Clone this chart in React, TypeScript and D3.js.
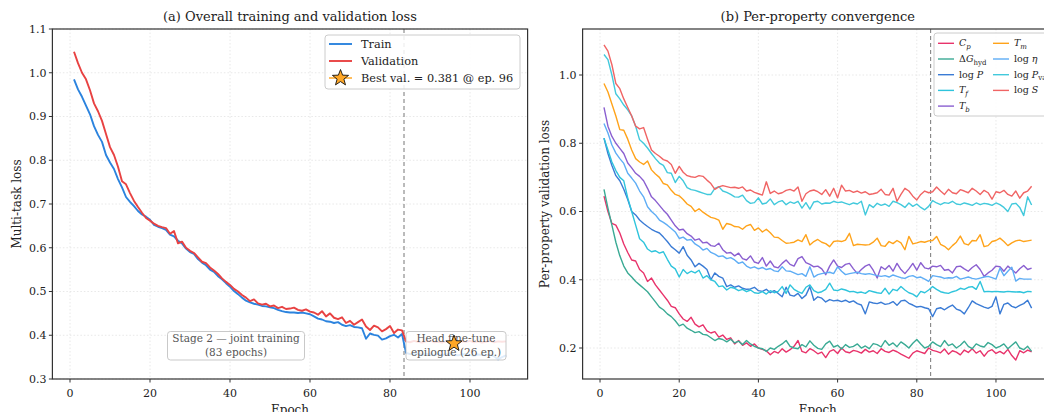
import React from "react";
import * as d3 from "d3";

const epochs: number[] = Array.from({ length: 109 }, (_, i) => i + 1);

const trainLoss = [
  0.985, 0.962, 0.945, 0.925, 0.905, 0.878, 0.858, 0.842, 0.812, 0.795,
  0.780, 0.757, 0.738, 0.716, 0.705, 0.695, 0.684, 0.676, 0.671, 0.664,
  0.652, 0.648, 0.645, 0.641, 0.630, 0.626, 0.616, 0.610, 0.598, 0.590,
  0.586, 0.574, 0.566, 0.560, 0.550, 0.545, 0.535, 0.528, 0.519, 0.511,
  0.501, 0.494, 0.486, 0.479, 0.475, 0.472, 0.470, 0.467, 0.466, 0.464,
  0.462, 0.458, 0.455, 0.453, 0.452, 0.452, 0.451, 0.452, 0.450, 0.448,
  0.443, 0.438, 0.436, 0.432, 0.431, 0.428, 0.430, 0.424, 0.421, 0.423,
  0.419, 0.418, 0.416, 0.392, 0.404, 0.401, 0.399, 0.390, 0.393, 0.398,
  0.401, 0.395, 0.403, 0.360, 0.357, 0.356, 0.358, 0.355, 0.357, 0.356,
  0.354, 0.357, 0.355, 0.356, 0.358, 0.355, 0.354, 0.356, 0.357, 0.355,
  0.353, 0.356, 0.355, 0.354, 0.356, 0.352, 0.345, 0.350, 0.354,
];

const valLoss = [
  1.048, 1.022, 1.000, 0.985, 0.960, 0.930, 0.912, 0.890, 0.860, 0.830,
  0.812, 0.785, 0.752, 0.745, 0.725, 0.707, 0.693, 0.680, 0.668, 0.662,
  0.655, 0.650, 0.647, 0.645, 0.632, 0.638, 0.610, 0.614, 0.600, 0.593,
  0.588, 0.578, 0.568, 0.565, 0.555, 0.548, 0.540, 0.530, 0.522, 0.515,
  0.506, 0.500, 0.492, 0.486, 0.478, 0.482, 0.473, 0.470, 0.472, 0.466,
  0.468, 0.462, 0.465, 0.460, 0.461, 0.463, 0.458, 0.456, 0.459, 0.454,
  0.452, 0.447, 0.455, 0.443, 0.450, 0.440, 0.437, 0.441, 0.428, 0.433,
  0.424, 0.430, 0.436, 0.420, 0.412, 0.422, 0.418, 0.409, 0.414, 0.421,
  0.405, 0.413, 0.411, 0.386, 0.384, 0.387, 0.385, 0.383, 0.386, 0.388,
  0.384, 0.385, 0.383, 0.386, 0.382, 0.381, 0.384, 0.386, 0.385, 0.387,
  0.384, 0.386, 0.383, 0.385, 0.387, 0.384, 0.386, 0.385, 0.386,
];

const bestEpoch = 96;
const bestVal = 0.381;
const stageBoundary = 83.5;

const cpLoss = [
  0.645, 0.600, 0.565, 0.560, 0.537, 0.505, 0.480, 0.458, 0.455, 0.430,
  0.420, 0.395, 0.405, 0.385, 0.370, 0.355, 0.340, 0.322, 0.318, 0.300,
  0.285, 0.278, 0.290, 0.270, 0.262, 0.268, 0.250, 0.244, 0.248, 0.232,
  0.238, 0.225, 0.230, 0.212, 0.222, 0.208, 0.215, 0.205, 0.212, 0.200,
  0.196, 0.192, 0.180, 0.190, 0.185, 0.198, 0.188, 0.195, 0.205, 0.222,
  0.190, 0.186, 0.198, 0.192, 0.183, 0.188, 0.172, 0.190, 0.195, 0.184,
  0.200, 0.189, 0.186, 0.193, 0.190, 0.185, 0.196, 0.188, 0.192, 0.184,
  0.198, 0.190, 0.187, 0.194, 0.189, 0.182, 0.176, 0.170, 0.185, 0.192,
  0.188, 0.184, 0.200, 0.193, 0.190, 0.186, 0.197, 0.182, 0.192, 0.188,
  0.180, 0.194, 0.187, 0.198, 0.185, 0.192, 0.176, 0.190, 0.195, 0.184,
  0.190, 0.183, 0.196, 0.178, 0.165, 0.192, 0.186, 0.194, 0.189,
];

const dgLoss = [
  0.665, 0.610, 0.560, 0.510, 0.470, 0.440, 0.420, 0.408, 0.395, 0.385,
  0.375, 0.365, 0.350, 0.335, 0.320, 0.312, 0.300, 0.292, 0.280, 0.265,
  0.270, 0.258, 0.252, 0.245, 0.248, 0.240, 0.238, 0.230, 0.222, 0.228,
  0.225, 0.218, 0.226, 0.215, 0.220, 0.210, 0.222, 0.212, 0.205, 0.200,
  0.198, 0.190, 0.200, 0.196, 0.205, 0.212, 0.222, 0.205, 0.200, 0.198,
  0.210, 0.203, 0.221, 0.208, 0.199, 0.196, 0.212, 0.220, 0.203, 0.208,
  0.197, 0.210, 0.202, 0.205, 0.212, 0.200, 0.206, 0.198, 0.213, 0.210,
  0.203, 0.222, 0.208, 0.215, 0.204, 0.218, 0.210, 0.200, 0.214, 0.225,
  0.212, 0.200, 0.205, 0.218, 0.210, 0.204, 0.222, 0.207, 0.212, 0.200,
  0.208, 0.220, 0.205, 0.198, 0.212, 0.206, 0.203, 0.216, 0.210, 0.200,
  0.205, 0.212, 0.198, 0.208, 0.218, 0.200, 0.195, 0.205, 0.190,
];

const logPLoss = [
  0.815, 0.770, 0.735, 0.705, 0.690, 0.665, 0.635, 0.600, 0.590, 0.575,
  0.565, 0.556, 0.548, 0.542, 0.537, 0.525, 0.512, 0.497, 0.488, 0.478,
  0.497, 0.472, 0.458, 0.438, 0.448, 0.440, 0.430, 0.400, 0.420, 0.410,
  0.405, 0.380, 0.385, 0.378, 0.382, 0.375, 0.372, 0.373, 0.378, 0.368,
  0.366, 0.372, 0.362, 0.368, 0.360, 0.350, 0.378, 0.355, 0.352, 0.360,
  0.345, 0.355, 0.380, 0.340, 0.350, 0.346, 0.335, 0.342, 0.338, 0.340,
  0.336, 0.340, 0.334, 0.338, 0.330, 0.326, 0.300, 0.335, 0.332, 0.330,
  0.334, 0.328, 0.330, 0.336, 0.325, 0.338, 0.340, 0.331, 0.326, 0.320,
  0.322, 0.318, 0.315, 0.292, 0.315, 0.318, 0.312, 0.320, 0.326, 0.314,
  0.310, 0.300, 0.318, 0.338, 0.330, 0.325, 0.320, 0.316, 0.322, 0.350,
  0.300, 0.328, 0.332, 0.322, 0.318, 0.325, 0.330, 0.340, 0.317,
];

const tfLoss = [
  0.815, 0.780, 0.745, 0.720, 0.700, 0.690, 0.640, 0.600, 0.560, 0.520,
  0.510, 0.490, 0.482, 0.485, 0.478, 0.482, 0.460, 0.440, 0.432, 0.408,
  0.430, 0.418, 0.425, 0.420, 0.428, 0.405, 0.412, 0.400, 0.395, 0.380,
  0.382, 0.370, 0.378, 0.375, 0.368, 0.372, 0.365, 0.370, 0.362, 0.360,
  0.365, 0.358, 0.368, 0.362, 0.366, 0.380, 0.360, 0.385, 0.372, 0.365,
  0.360, 0.378, 0.385, 0.368, 0.362, 0.365, 0.372, 0.390, 0.370, 0.368,
  0.373, 0.370, 0.365, 0.366, 0.362, 0.364, 0.360, 0.368, 0.365, 0.362,
  0.360, 0.375, 0.358, 0.372, 0.368, 0.380, 0.370, 0.362, 0.358, 0.350,
  0.366, 0.362, 0.370, 0.380, 0.372, 0.365, 0.362, 0.360, 0.365, 0.368,
  0.375, 0.372, 0.378, 0.380, 0.372, 0.395, 0.365, 0.366, 0.365, 0.366,
  0.365, 0.364, 0.366, 0.365, 0.364, 0.365, 0.362, 0.366, 0.365,
];

const tbLoss = [
  0.905, 0.850, 0.820, 0.800, 0.785, 0.770, 0.742, 0.728, 0.712, 0.703,
  0.690, 0.668, 0.643, 0.632, 0.618, 0.604, 0.592, 0.575, 0.558, 0.546,
  0.548, 0.535, 0.528, 0.516, 0.520, 0.508, 0.510, 0.500, 0.498, 0.507,
  0.488, 0.478, 0.480, 0.470, 0.478, 0.462, 0.458, 0.470, 0.452, 0.448,
  0.465, 0.440, 0.455, 0.438, 0.435, 0.448, 0.458, 0.445, 0.440, 0.462,
  0.468, 0.450, 0.445, 0.438, 0.440, 0.432, 0.415, 0.440, 0.458, 0.440,
  0.436, 0.445, 0.448, 0.432, 0.418, 0.430, 0.440, 0.445, 0.428, 0.405,
  0.438, 0.430, 0.442, 0.425, 0.448, 0.430, 0.418, 0.432, 0.448, 0.428,
  0.450, 0.435, 0.432, 0.440, 0.438, 0.442, 0.428, 0.430, 0.420, 0.438,
  0.440, 0.432, 0.425, 0.436, 0.444, 0.430, 0.410, 0.420, 0.428, 0.440,
  0.438, 0.425, 0.440, 0.430, 0.420, 0.432, 0.442, 0.430, 0.434,
];

const tmLoss = [
  0.975, 0.950, 0.915, 0.880, 0.840, 0.838, 0.812, 0.780, 0.755, 0.745,
  0.738, 0.748, 0.722, 0.710, 0.700, 0.682, 0.678, 0.662, 0.650, 0.646,
  0.635, 0.622, 0.615, 0.600, 0.608, 0.598, 0.590, 0.583, 0.580, 0.575,
  0.548, 0.565, 0.562, 0.556, 0.555, 0.548, 0.558, 0.562, 0.545, 0.552,
  0.540, 0.548, 0.538, 0.525, 0.524, 0.515, 0.507, 0.508, 0.510, 0.517,
  0.512, 0.532, 0.502, 0.512, 0.518, 0.510, 0.506, 0.497, 0.512, 0.514,
  0.512, 0.516, 0.536, 0.500, 0.504, 0.503, 0.502, 0.503, 0.510, 0.522,
  0.500, 0.498, 0.512, 0.506, 0.515, 0.508, 0.488, 0.527, 0.505, 0.508,
  0.512, 0.510, 0.514, 0.515, 0.527, 0.504, 0.498, 0.488, 0.500, 0.510,
  0.528, 0.506, 0.502, 0.515, 0.514, 0.532, 0.497, 0.500, 0.512, 0.515,
  0.522, 0.512, 0.500, 0.508, 0.514, 0.516, 0.512, 0.514, 0.516,
];

const logEtaLoss = [
  0.858, 0.830, 0.795, 0.771, 0.755, 0.741, 0.712, 0.698, 0.683, 0.660,
  0.643, 0.614, 0.600, 0.590, 0.575, 0.568, 0.560, 0.550, 0.540, 0.521,
  0.525, 0.516, 0.518, 0.505, 0.498, 0.487, 0.492, 0.480, 0.475, 0.468,
  0.470, 0.462, 0.465, 0.458, 0.448, 0.452, 0.440, 0.434, 0.438, 0.432,
  0.436, 0.430, 0.433, 0.426, 0.424, 0.438, 0.426, 0.425, 0.420, 0.415,
  0.418, 0.410, 0.438, 0.408, 0.415, 0.418, 0.420, 0.422, 0.418, 0.438,
  0.425, 0.415, 0.418, 0.420, 0.422, 0.418, 0.416, 0.418, 0.415, 0.412,
  0.410, 0.412, 0.408, 0.414, 0.410, 0.406, 0.404, 0.410, 0.412, 0.406,
  0.408, 0.402, 0.395, 0.412, 0.410, 0.408, 0.404, 0.406, 0.405, 0.410,
  0.402, 0.405, 0.408, 0.404, 0.402, 0.405, 0.408, 0.410, 0.406, 0.402,
  0.434, 0.412, 0.425, 0.437, 0.396, 0.404, 0.402, 0.402, 0.402,
];

const logPvapLoss = [
  1.060, 1.045, 1.000, 0.945, 0.930, 0.912, 0.898, 0.880, 0.850, 0.810,
  0.800, 0.786, 0.770, 0.755, 0.742, 0.735, 0.714, 0.712, 0.685, 0.703,
  0.690, 0.670, 0.664, 0.662, 0.658, 0.654, 0.650, 0.650, 0.668, 0.673,
  0.660, 0.656, 0.650, 0.643, 0.642, 0.648, 0.632, 0.624, 0.626, 0.640,
  0.622, 0.625, 0.637, 0.620, 0.628, 0.632, 0.620, 0.628, 0.624, 0.630,
  0.610, 0.626, 0.607, 0.628, 0.630, 0.622, 0.625, 0.624, 0.630, 0.626,
  0.628, 0.624, 0.620, 0.625, 0.622, 0.630, 0.590, 0.620, 0.612, 0.624,
  0.618, 0.622, 0.615, 0.630, 0.626, 0.620, 0.612, 0.625, 0.615, 0.622,
  0.612, 0.605, 0.615, 0.632, 0.625, 0.620, 0.626, 0.624, 0.630, 0.622,
  0.620, 0.625, 0.622, 0.618, 0.625, 0.620, 0.624, 0.622, 0.618, 0.625,
  0.620, 0.612, 0.600, 0.622, 0.624, 0.612, 0.588, 0.643, 0.619,
];

const logSLoss = [
  1.088, 1.070, 1.030, 0.975, 0.960, 0.930, 0.905, 0.880, 0.850, 0.842,
  0.846, 0.812, 0.780, 0.770, 0.762, 0.752, 0.748, 0.738, 0.712, 0.732,
  0.715, 0.705, 0.702, 0.700, 0.705, 0.703, 0.692, 0.682, 0.665, 0.672,
  0.676, 0.673, 0.670, 0.671, 0.668, 0.672, 0.660, 0.663, 0.656, 0.652,
  0.648, 0.687, 0.653, 0.660, 0.652, 0.655, 0.662, 0.665, 0.660, 0.672,
  0.630, 0.652, 0.660, 0.663, 0.658, 0.650, 0.664, 0.645, 0.668, 0.640,
  0.677, 0.660, 0.662, 0.656, 0.660, 0.654, 0.658, 0.650, 0.652, 0.655,
  0.665, 0.650, 0.648, 0.668, 0.630, 0.650, 0.668, 0.660, 0.645, 0.634,
  0.650, 0.660, 0.655, 0.658, 0.672, 0.660, 0.650, 0.665, 0.655, 0.652,
  0.664, 0.660, 0.655, 0.668, 0.660, 0.650, 0.662, 0.655, 0.636, 0.658,
  0.655, 0.662, 0.650, 0.645, 0.660, 0.639, 0.655, 0.660, 0.674,
];

const propertyKeys = ["Cp", "dG", "logP", "Tf", "Tb", "Tm", "logEta", "logPvap", "logS"];
const propertyValues = [cpLoss, dgLoss, logPLoss, tfLoss, tbLoss, tmLoss, logEtaLoss, logPvapLoss, logSLoss];
const propertyColors = ["#e8336b", "#3aaa94", "#3a7bd5", "#2ec4dc", "#8a5fd0", "#ffa31a", "#5eadf5", "#42c9dc", "#f06464"];

const leftYTicks = [0.3, 0.4, 0.5, 0.6, 0.7, 0.8, 0.9, 1.0, 1.1];
const rightYTicks = [0.2, 0.4, 0.6, 0.8, 1.0];
const xTicks = [0, 20, 40, 60, 80, 100];

const FONT = "'DejaVu Serif', serif";
const TEXT = "#222";

function starPath(cx: number, cy: number, R: number) {
  const r = R * 0.42;
  const pts: string[] = [];
  for (let i = 0; i < 10; i++) {
    const a = -Math.PI / 2 + (i * Math.PI) / 5;
    const rad = i % 2 === 0 ? R : r;
    pts.push(`${cx + rad * Math.cos(a)},${cy + rad * Math.sin(a)}`);
  }
  return "M" + pts.join("L") + "Z";
}

function PropLabel({ k }: { k: string }) {
  const it = { fontStyle: "italic" as const };
  switch (k) {
    case "Cp":
      return (<><tspan {...it}>C</tspan><tspan {...it} dy={2.5} fontSize={7}>p</tspan></>);
    case "dG":
      return (<><tspan>Δ</tspan><tspan {...it}>G</tspan><tspan dy={2.5} fontSize={7}>hyd</tspan></>);
    case "logP":
      return (<><tspan>log </tspan><tspan {...it}>P</tspan></>);
    case "Tf":
      return (<><tspan {...it}>T</tspan><tspan {...it} dy={2.5} fontSize={7}>f</tspan></>);
    case "Tb":
      return (<><tspan {...it}>T</tspan><tspan {...it} dy={2.5} fontSize={7}>b</tspan></>);
    case "Tm":
      return (<><tspan {...it}>T</tspan><tspan {...it} dy={2.5} fontSize={7}>m</tspan></>);
    case "logEta":
      return (<><tspan>log </tspan><tspan {...it}>η</tspan></>);
    case "logPvap":
      return (<><tspan>log </tspan><tspan {...it}>P</tspan><tspan dy={2.5} fontSize={7}>vap</tspan></>);
    default:
      return (<><tspan>log </tspan><tspan {...it}>S</tspan></>);
  }
}

export default function App() {
  const top = 29, bottom = 379;
  const xL = d3.scaleLinear().domain([-4.4, 114.4]).range([52.4, 527.6]);
  const yL = d3.scaleLinear().domain([0.3, 1.1]).range([bottom, top]);
  const xR = d3.scaleLinear().domain([-4.4, 114.4]).range([582.6, 1053]);
  const yR = d3.scaleLinear().domain([0.1092, 1.1348]).range([bottom, top]);

  const lineL = d3.line<number>().x((_, i) => xL(epochs[i])).y((d) => yL(d));
  const lineR = d3.line<number>().x((_, i) => xR(epochs[i])).y((d) => yR(d));

  const grid = "#e2e2e2";
  const spine = "#333";

  const [lx0, lx1] = xL.range();
  const [rx0, rx1] = xR.range();

  const starX = xL(bestEpoch);
  const starY = yL(bestVal);

  return (
    <svg width={1044} height={412} style={{ position: "absolute", left: 0, top: 0, background: "#fff" }} fontFamily={FONT}>
      <rect width={1044} height={412} fill="#fff" />
      {/* ---------- Left panel ---------- */}
      <g>
        {xTicks.map((t) => (
          <line key={"lgx" + t} x1={xL(t)} x2={xL(t)} y1={top} y2={bottom} stroke={grid} strokeWidth={0.8} strokeDasharray="1.5,2" />
        ))}
        {leftYTicks.map((t) => (
          <line key={"lgy" + t} x1={lx0} x2={lx1} y1={yL(t)} y2={yL(t)} stroke={grid} strokeWidth={0.8} strokeDasharray="1.5,2" />
        ))}
        <line x1={xL(stageBoundary)} x2={xL(stageBoundary)} y1={top} y2={bottom} stroke="#777" strokeWidth={1} strokeDasharray="4,3" />
        <path d={lineL(trainLoss) || ""} fill="none" stroke="#2b83de" strokeWidth={1.9} strokeLinejoin="round" />
        <path d={lineL(valLoss) || ""} fill="none" stroke="#e84242" strokeWidth={1.9} strokeLinejoin="round" />

        {/* annotations */}
        <g fontSize={10.5} fill="#555" textAnchor="middle">
          <rect x={xL(41.5) - 68.5} y={331.5} width={137} height={28.5} rx={3} fill="#fff" fillOpacity={0.85} stroke="#bbb" strokeWidth={0.8} />
          <text x={xL(41.5)} y={342}>Stage 2 — joint training</text>
          <text x={xL(41.5)} y={355.5}>(83 epochs)</text>
          <rect x={xL(96.5) - 50} y={331.5} width={100} height={28.5} rx={3} fill="#fff" fillOpacity={0.85} stroke="#bbb" strokeWidth={0.8} />
          <text x={xL(96.5)} y={342}>Head fine-tune</text>
          <text x={xL(96.5)} y={355.5}>epilogue (26 ep.)</text>
        </g>
        <path d={starPath(starX, starY, 8.5)} fill="#ffa726" stroke="#111" strokeWidth={0.9} strokeLinejoin="miter" />

        {/* spines */}
        <rect x={lx0} y={top} width={lx1 - lx0} height={bottom - top} fill="none" stroke={spine} strokeWidth={1.2} />
        {xTicks.map((t) => (
          <g key={"lxt" + t}>
            <line x1={xL(t)} x2={xL(t)} y1={bottom} y2={bottom + 3.5} stroke={spine} strokeWidth={1} />
            <text x={xL(t)} y={397} fontSize={11} textAnchor="middle" fill={TEXT}>{t}</text>
          </g>
        ))}
        {leftYTicks.map((t) => (
          <g key={"lyt" + t}>
            <line x1={lx0 - 3.5} x2={lx0} y1={yL(t)} y2={yL(t)} stroke={spine} strokeWidth={1} />
            <text x={lx0 - 6} y={yL(t)} dy="0.35em" fontSize={11} textAnchor="end" fill={TEXT}>{t.toFixed(1)}</text>
          </g>
        ))}
        <text x={(lx0 + lx1) / 2} y={414} fontSize={12} textAnchor="middle" fill={TEXT}>Epoch</text>
        <text transform={`translate(21,${(top + bottom) / 2}) rotate(-90)`} fontSize={12} textAnchor="middle" fill={TEXT}>Multi-task loss</text>
        <text x={(lx0 + lx1) / 2} y={21} fontSize={13} textAnchor="middle" fill={TEXT}>(a) Overall training and validation loss</text>

        {/* legend */}
        <rect x={325} y={35} width={195} height={54} rx={3} fill="#fff" fillOpacity={0.85} stroke="#ccc" strokeWidth={1} />
        <line x1={329} x2={352} y1={44} y2={44} stroke="#2b83de" strokeWidth={1.9} />
        <text x={361} y={44} dy="0.35em" fontSize={11.3} fill={TEXT}>Train</text>
        <line x1={329} x2={352} y1={61} y2={61} stroke="#e84242" strokeWidth={1.9} />
        <text x={361} y={61} dy="0.35em" fontSize={11.3} fill={TEXT}>Validation</text>
        <line x1={329} x2={352} y1={78} y2={78} stroke="#ffa726" strokeWidth={1.5} />
        <path d={starPath(340.5, 78, 8.5)} fill="#ffa726" stroke="#111" strokeWidth={0.9} />
        <text x={361} y={78} dy="0.35em" fontSize={11.3} fill={TEXT}>{`Best val. = ${bestVal.toFixed(3)} @ ep. ${bestEpoch}`}</text>
      </g>

      {/* ---------- Right panel ---------- */}
      <g>
        {xTicks.map((t) => (
          <line key={"rgx" + t} x1={xR(t)} x2={xR(t)} y1={top} y2={bottom} stroke={grid} strokeWidth={0.8} strokeDasharray="1.5,2" />
        ))}
        {rightYTicks.map((t) => (
          <line key={"rgy" + t} x1={rx0} x2={rx1} y1={yR(t)} y2={yR(t)} stroke={grid} strokeWidth={0.8} strokeDasharray="1.5,2" />
        ))}
        <line x1={xR(stageBoundary)} x2={xR(stageBoundary)} y1={top} y2={bottom} stroke="#777" strokeWidth={1} strokeDasharray="4,3" />
        {propertyValues.map((vals, i) => (
          <path key={"pl" + i} d={lineR(vals) || ""} fill="none" stroke={propertyColors[i]} strokeWidth={1.4} strokeLinejoin="round" />
        ))}
        <rect x={rx0} y={top} width={rx1 - rx0} height={bottom - top} fill="none" stroke={spine} strokeWidth={1.2} />
        {xTicks.map((t) => (
          <g key={"rxt" + t}>
            <line x1={xR(t)} x2={xR(t)} y1={bottom} y2={bottom + 3.5} stroke={spine} strokeWidth={1} />
            <text x={xR(t)} y={397} fontSize={11} textAnchor="middle" fill={TEXT}>{t}</text>
          </g>
        ))}
        {rightYTicks.map((t) => (
          <g key={"ryt" + t}>
            <line x1={rx0 - 3.5} x2={rx0} y1={yR(t)} y2={yR(t)} stroke={spine} strokeWidth={1} />
            <text x={rx0 - 6} y={yR(t)} dy="0.35em" fontSize={11} textAnchor="end" fill={TEXT}>{t.toFixed(1)}</text>
          </g>
        ))}
        <text x={(rx0 + rx1) / 2} y={414} fontSize={12} textAnchor="middle" fill={TEXT}>Epoch</text>
        <text transform={`translate(549,${(top + bottom) / 2}) rotate(-90)`} fontSize={12} textAnchor="middle" fill={TEXT}>Per-property validation loss</text>
        <text x={(rx0 + rx1) / 2} y={21} fontSize={13} textAnchor="middle" fill={TEXT}>(b) Per-property convergence</text>

        {/* legend */}
        <rect x={934} y={33} width={130} height={83} rx={3} fill="#fff" fillOpacity={0.85} stroke="#ccc" strokeWidth={1} />
        {propertyKeys.map((k, i) => {
          const col = i < 5 ? 0 : 1;
          const row = i < 5 ? i : i - 5;
          const hx = col === 0 ? 938 : 993;
          const ty = 43.3 + row * 15.7;
          return (
            <g key={"lg" + k}>
              <line x1={hx} x2={hx + 16} y1={ty} y2={ty} stroke={propertyColors[i]} strokeWidth={1.4} />
              <text x={hx + 21} y={ty + 3} fontSize={9.5} fill={TEXT}><PropLabel k={k} /></text>
            </g>
          );
        })}
      </g>
    </svg>
  );
}
